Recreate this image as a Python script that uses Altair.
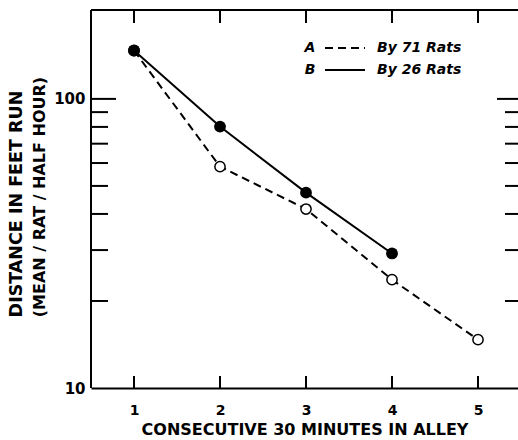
import altair as alt
import pandas as pd

# ---- data ----
minutes_a = [1, 2, 3, 4, 5]
dist_a = [147, 58.3, 41.6, 23.7, 14.7]      # A: by 71 rats (dashed, open circles)
minutes_b = [1, 2, 3, 4]
dist_b = [147, 80.2, 47.4, 29.2]            # B: by 26 rats (solid, filled circles)

x_ticks = [1, 2, 3, 4, 5]
y_minor = [20, 30, 40, 50, 60, 70, 80, 90]
y_major = [100]
y_labels = [10, 100]

legend_keys = ["A", "B"]
legend_texts = ["By 71 Rats", "By 26 Rats"]
x_title = "CONSECUTIVE 30 MINUTES IN ALLEY"
y_title_1 = "DISTANCE IN FEET RUN"
y_title_2 = "(MEAN / RAT / HALF HOUR)"

W, H = 427, 378
FONT = "DejaVu Sans"

xscale = alt.Scale(domain=[0.5, 5.465], nice=False, zero=False)
yscale = alt.Scale(type="log", domain=[10, 203], nice=False)

X = alt.X("x:Q", scale=xscale,
          axis=alt.Axis(values=x_ticks, format="d", ticks=False, grid=False,
                        domain=True, domainColor="black", domainWidth=2,
                        labelFont=FONT, labelFontWeight="bold", labelFontSize=14,
                        labelColor="black", labelPadding=15,
                        title=x_title, titleFont=FONT, titleFontWeight="bold",
                        titleFontSize=16, titleColor="black", titlePadding=4))
Y = alt.Y("y:Q", scale=yscale,
          axis=alt.Axis(values=y_labels, format="d", ticks=False, grid=False,
                        domain=False, labelFont=FONT, labelFontWeight="bold",
                        labelFontSize=15, labelColor="black", labelPadding=6,
                        title=None))

df_a = pd.DataFrame({"x": minutes_a, "y": dist_a})
df_b = pd.DataFrame({"x": minutes_b, "y": dist_b})

line_a = alt.Chart(df_a).mark_line(color="black", strokeWidth=2, strokeDash=[8, 5]).encode(x=X, y=Y)
line_b = alt.Chart(df_b).mark_line(color="black", strokeWidth=2).encode(x=X, y=Y)
pts_a = alt.Chart(df_a).mark_point(shape="circle", filled=True, fill="white", stroke="black",
                                   strokeWidth=1.5, size=105, opacity=1).encode(x=X, y=Y)
pts_b = alt.Chart(df_b).mark_circle(color="black", size=140, opacity=1).encode(x=X, y=Y)

# frame
frame_top = alt.Chart(pd.DataFrame({"k": [0]})).mark_rule(color="black", strokeWidth=2).encode(
    x=alt.value(0), x2=alt.value(W), y=alt.value(0))
frame_left = alt.Chart(pd.DataFrame({"k": [0]})).mark_rule(color="black", strokeWidth=2).encode(
    x=alt.value(0), y=alt.value(0), y2=alt.value(H))

# y ticks (inward, both sides)
df_minor = pd.DataFrame({"y": y_minor})
df_major = pd.DataFrame({"y": y_major})
yt_l_min = alt.Chart(df_minor).mark_rule(color="black", strokeWidth=2).encode(
    y=Y, x=alt.value(0), x2=alt.value(17))
yt_l_maj = alt.Chart(df_major).mark_rule(color="black", strokeWidth=2).encode(
    y=Y, x=alt.value(0), x2=alt.value(25))
yt_r_min = alt.Chart(df_minor).mark_rule(color="black", strokeWidth=2).encode(
    y=Y, x=alt.value(W - 13), x2=alt.value(W))
yt_r_maj = alt.Chart(df_major).mark_rule(color="black", strokeWidth=2).encode(
    y=Y, x=alt.value(W - 21), x2=alt.value(W))

# x ticks (inward, top and bottom)
df_xt = pd.DataFrame({"x": x_ticks})
xt_top = alt.Chart(df_xt).mark_rule(color="black", strokeWidth=2).encode(
    x=X, y=alt.value(0), y2=alt.value(13))
xt_bot = alt.Chart(df_xt).mark_rule(color="black", strokeWidth=2).encode(
    x=X, y=alt.value(H - 12), y2=alt.value(H))

# legend
leg_key_a = alt.Chart(pd.DataFrame({"t": [legend_keys[0]]})).mark_text(
    font=FONT, fontWeight="bold", fontStyle="italic", fontSize=14, align="center",
    baseline="middle", color="black").encode(text="t:N", x=alt.value(219), y=alt.value(38))
leg_key_b = alt.Chart(pd.DataFrame({"t": [legend_keys[1]]})).mark_text(
    font=FONT, fontWeight="bold", fontStyle="italic", fontSize=14, align="center",
    baseline="middle", color="black").encode(text="t:N", x=alt.value(219), y=alt.value(60))
leg_line_a = alt.Chart(pd.DataFrame({"k": [0]})).mark_rule(
    color="black", strokeWidth=2, strokeDash=[8, 5]).encode(
    x=alt.value(234), x2=alt.value(274), y=alt.value(38))
leg_line_b = alt.Chart(pd.DataFrame({"k": [0]})).mark_rule(
    color="black", strokeWidth=2).encode(
    x=alt.value(234), x2=alt.value(274), y=alt.value(60))
leg_txt_a = alt.Chart(pd.DataFrame({"t": [legend_texts[0]]})).mark_text(
    font=FONT, fontWeight="bold", fontStyle="italic", fontSize=14, align="left",
    baseline="middle", color="black").encode(text="t:N", x=alt.value(286), y=alt.value(38))
leg_txt_b = alt.Chart(pd.DataFrame({"t": [legend_texts[1]]})).mark_text(
    font=FONT, fontWeight="bold", fontStyle="italic", fontSize=14, align="left",
    baseline="middle", color="black").encode(text="t:N", x=alt.value(286), y=alt.value(60))

# y title (two lines)
ytitle1 = alt.Chart(pd.DataFrame({"t": [y_title_1]})).mark_text(
    font=FONT, fontWeight="bold", fontSize=17.5, angle=270, align="center",
    baseline="middle", color="black").encode(text="t:N", x=alt.value(-74), y=alt.value(194))
ytitle2 = alt.Chart(pd.DataFrame({"t": [y_title_2]})).mark_text(
    font=FONT, fontWeight="bold", fontSize=16, angle=270, align="center",
    baseline="middle", color="black").encode(text="t:N", x=alt.value(-51), y=alt.value(187))

chart = alt.layer(
    line_a, line_b,
    frame_top, frame_left,
    yt_l_min, yt_l_maj, yt_r_min, yt_r_maj, xt_top, xt_bot,
    pts_a, pts_b,
    leg_key_a, leg_key_b, leg_line_a, leg_line_b, leg_txt_a, leg_txt_b,
    ytitle1, ytitle2,
).properties(
    width=W, height=H,
    autosize=alt.AutoSizeParams(type="none"),
    padding={"left": 91, "top": 10, "right": 0, "bottom": 52},
    background="white",
).configure_view(strokeWidth=0)

chart.save("out.html", embed_options={"renderer": "svg", "actions": False})
